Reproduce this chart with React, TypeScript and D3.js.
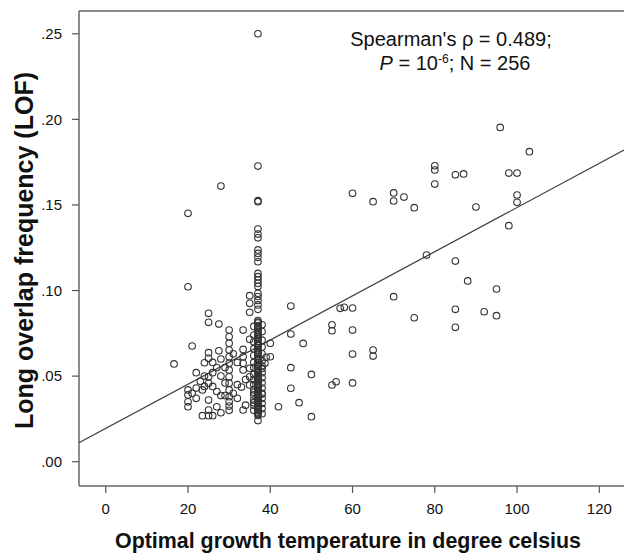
import React from "react";
import * as d3 from "d3";

// Optimal growth temperature (°C) and long overlap frequency
const ogt = [
  // warm / hot organisms
  95.9, 103, 80, 80, 85, 87, 98, 100, 80, 60,
  70, 70, 72.5, 65, 75, 100, 100, 90, 98, 78,
  85, 88, 95, 70, 57, 58, 60, 85, 92, 95,
  75, 55, 55, 60, 85, 60, 65, 65, 45, 45,
  48, 45, 50, 55, 56, 45, 47, 42, 50, 60,
  40, 40, 38.7,
  // below 37
  28, 20, 20, 35, 35, 35, 25, 25, 27.5,
  30, 30, 30, 30, 30, 30, 30, 30, 30, 30, 30, 30,
  33.4, 35, 21, 25, 25, 27.5, 24, 16.6,
  33.4, 33.4, 33.4, 33.4,
  35, 35, 35,
  20, 20, 20, 20,
  22, 23.5,
  25, 25, 25, 25,
  23.5, 25, 26, 28, 27, 28, 29, 32, 33.4, 32, 33,
  27, 28, 28, 26, 29, 26, 22, 23, 24, 27, 30, 30,
  21, 22, 24, 26, 29, 31, 31, 32, 34, 34, 39,
  // the 37 °C column
  37, 37, 37, 37, 37, 37, 37, 37, 37, 37, 37, 37, 37, 37, 37, 37, 37, 37, 37, 37, 37,
  37, 37, 37, 37, 37, 37, 37, 37, 37, 37, 37, 37, 37, 37, 37, 37, 37, 37, 37, 37,
  37, 37, 37, 37, 37, 37, 37, 37, 37, 37, 37, 37, 37, 37, 37, 37, 37, 37, 37, 37,
  37, 37, 37, 37, 37, 37, 37, 37, 37, 37, 37,
  36, 36, 36, 36, 36, 36, 36, 36, 36, 36, 36, 36, 36, 36, 36,
  38, 38, 38, 38, 38, 38, 38, 38, 38, 38, 38, 38, 38, 38, 38, 38,
  37, 37, 37, 37, 37, 37, 37, 37, 37, 37, 37, 37, 37, 37, 37, 37,
  36, 36, 38, 38,
];

const lof = [
  0.1953, 0.1811, 0.1729, 0.1704, 0.1676, 0.1681, 0.1686, 0.1686, 0.1622, 0.1568,
  0.157, 0.1523, 0.1546, 0.1519, 0.1484, 0.1558, 0.1515, 0.1488, 0.1379, 0.1207,
  0.1172, 0.1056, 0.1009, 0.0964, 0.0896, 0.0902, 0.0898, 0.089, 0.0876, 0.0853,
  0.0841, 0.08, 0.0765, 0.0769, 0.0785, 0.0629, 0.0652, 0.0617, 0.0909, 0.0746,
  0.0691, 0.0549, 0.051, 0.0448, 0.0467, 0.0429, 0.0345, 0.0321, 0.0263, 0.046,
  0.0692, 0.0613, 0.0575,
  0.161, 0.1451, 0.1022, 0.097, 0.0925, 0.0873, 0.0867, 0.0814, 0.0804,
  0.0769, 0.073, 0.0692, 0.0652, 0.0613, 0.0575, 0.0536, 0.0496, 0.0458, 0.0419, 0.038, 0.035,
  0.0769, 0.0715, 0.0676, 0.0637, 0.0604, 0.0648, 0.0578, 0.0571,
  0.0656, 0.0613, 0.0575, 0.0536,
  0.0546, 0.0496, 0.0448,
  0.0419, 0.039, 0.035, 0.0321,
  0.037, 0.0419,
  0.0496, 0.0458, 0.036, 0.0302,
  0.0269, 0.0269, 0.0269, 0.0286, 0.0321, 0.0386, 0.0386, 0.037, 0.0302, 0.045, 0.0436,
  0.055, 0.05, 0.06, 0.058, 0.046, 0.044, 0.052, 0.047, 0.044, 0.041, 0.03, 0.0325,
  0.04, 0.043, 0.05, 0.052, 0.055, 0.063, 0.04, 0.058, 0.033, 0.048, 0.061,
  0.25, 0.1727, 0.1525, 0.1519, 0.1359, 0.133, 0.1308, 0.1237, 0.1217, 0.1194, 0.1168,
  0.11, 0.1081, 0.1062, 0.1042, 0.1023, 0.0984, 0.0965, 0.0942, 0.0916, 0.089,
  0.0825, 0.081, 0.0795, 0.078, 0.0768, 0.0755, 0.074, 0.0728, 0.0715, 0.0702,
  0.069, 0.0678, 0.0665, 0.0652, 0.064, 0.0628, 0.0616, 0.0604, 0.0592, 0.058,
  0.0568, 0.0556, 0.0545, 0.0534, 0.0523, 0.0512, 0.0501, 0.049, 0.048, 0.047,
  0.046, 0.045, 0.044, 0.043, 0.042, 0.041, 0.04, 0.039, 0.038, 0.037,
  0.036, 0.035, 0.034, 0.033, 0.032, 0.031, 0.03, 0.029, 0.028, 0.027, 0.024,
  0.079, 0.074, 0.07, 0.066, 0.062, 0.058, 0.055, 0.051, 0.048, 0.045, 0.042, 0.039, 0.036, 0.033, 0.03,
  0.08, 0.076, 0.071, 0.067, 0.063, 0.059, 0.056, 0.052, 0.049, 0.046, 0.043, 0.04, 0.037, 0.034, 0.031, 0.028,
  0.0815, 0.0785, 0.0745, 0.072, 0.068, 0.0635, 0.0595, 0.0562, 0.0528, 0.0485, 0.0445, 0.0415, 0.0385, 0.0355, 0.0315, 0.0285,
  0.0405, 0.0345, 0.0545, 0.0395,
];

const xTicks = [0, 20, 40, 60, 80, 100, 120];
const yTicks = [0, 0.05, 0.1, 0.15, 0.2, 0.25];

// fit line (intercept, slope) as drawn
const fitIntercept = 0.0195;
const fitSlope = 0.00129;

const W = 624;
const H = 553;
const left = 79;
const top = 11;
const bottom = 486;

export default function App() {
  const x = d3.scaleLinear().domain([-6.5, 126]).range([left, W]);
  const y = d3.scaleLinear().domain([-0.0142, 0.2633]).range([bottom, top]);

  const fmt = (v: number) => d3.format(".2f")(v).replace(/^0/, "");

  const fitLine = d3
    .line<number>()
    .x((d) => x(d))
    .y((d) => y(fitIntercept + fitSlope * d))(x.domain());

  const font = "'Liberation Sans', Arial, sans-serif";

  return (
    <svg
      width={W}
      height={H}
      style={{ position: "absolute", left: 0, top: 0, background: "#fff" }}
      fontFamily={font}
    >
      <defs>
        <clipPath id="plot">
          <rect x={left} y={top} width={W - left} height={bottom - top} />
        </clipPath>
      </defs>

      {/* frame */}
      <line x1={left} x2={W} y1={top} y2={top} stroke="#666" strokeWidth={1.5} />
      <line x1={left} x2={W} y1={bottom} y2={bottom} stroke="#666" strokeWidth={1.5} />
      <line x1={left} x2={left} y1={top} y2={bottom} stroke="#666" strokeWidth={1.5} />

      {/* y axis */}
      {yTicks.map((t) => (
        <g key={t}>
          <line x1={left - 7} x2={left} y1={y(t)} y2={y(t)} stroke="#555" strokeWidth={1.2} />
          <text x={left - 17} y={y(t)} dy="0.35em" textAnchor="end" fontSize={15} fill="#111">
            {fmt(t)}
          </text>
        </g>
      ))}

      {/* x axis */}
      {xTicks.map((t) => (
        <g key={t}>
          <line x1={x(t)} x2={x(t)} y1={bottom} y2={bottom + 7} stroke="#555" strokeWidth={1.2} />
          <text x={x(t)} y={bottom + 28} textAnchor="middle" fontSize={15} fill="#111">
            {t}
          </text>
        </g>
      ))}

      <g clipPath="url(#plot)">
        <path d={fitLine ?? ""} fill="none" stroke="#444" strokeWidth={1.3} />
        {ogt.map((t, i) => (
          <circle
            key={i}
            cx={x(t)}
            cy={y(lof[i])}
            r={3.3}
            fill="none"
            stroke="#333"
            strokeWidth={1.1}
          />
        ))}
      </g>

      {/* annotation */}
      <text x={451} y={46} textAnchor="middle" fontSize={20} fill="#111">
        Spearman's ρ = 0.489;
      </text>
      <text x={455} y={70} textAnchor="middle" fontSize={20} fill="#111">
        <tspan fontStyle="italic">P</tspan>
        <tspan> = 10</tspan>
        <tspan dy={-7} fontSize={12}>-6</tspan>
        <tspan dy={7}>; N = 256</tspan>
      </text>

      {/* axis titles */}
      <text x={348} y={548} textAnchor="middle" fontSize={22} fontWeight="bold" fill="#111"
        textLength={466} lengthAdjust="spacingAndGlyphs">
        Optimal growth temperature in degree celsius
      </text>
      <text
        transform={`translate(33, ${(top + bottom) / 2 + 2}) rotate(-90)`}
        textAnchor="middle"
        fontSize={25}
        fontWeight="bold"
        fill="#111"
      >
        Long overlap frequency (LOF)
      </text>
    </svg>
  );
}
